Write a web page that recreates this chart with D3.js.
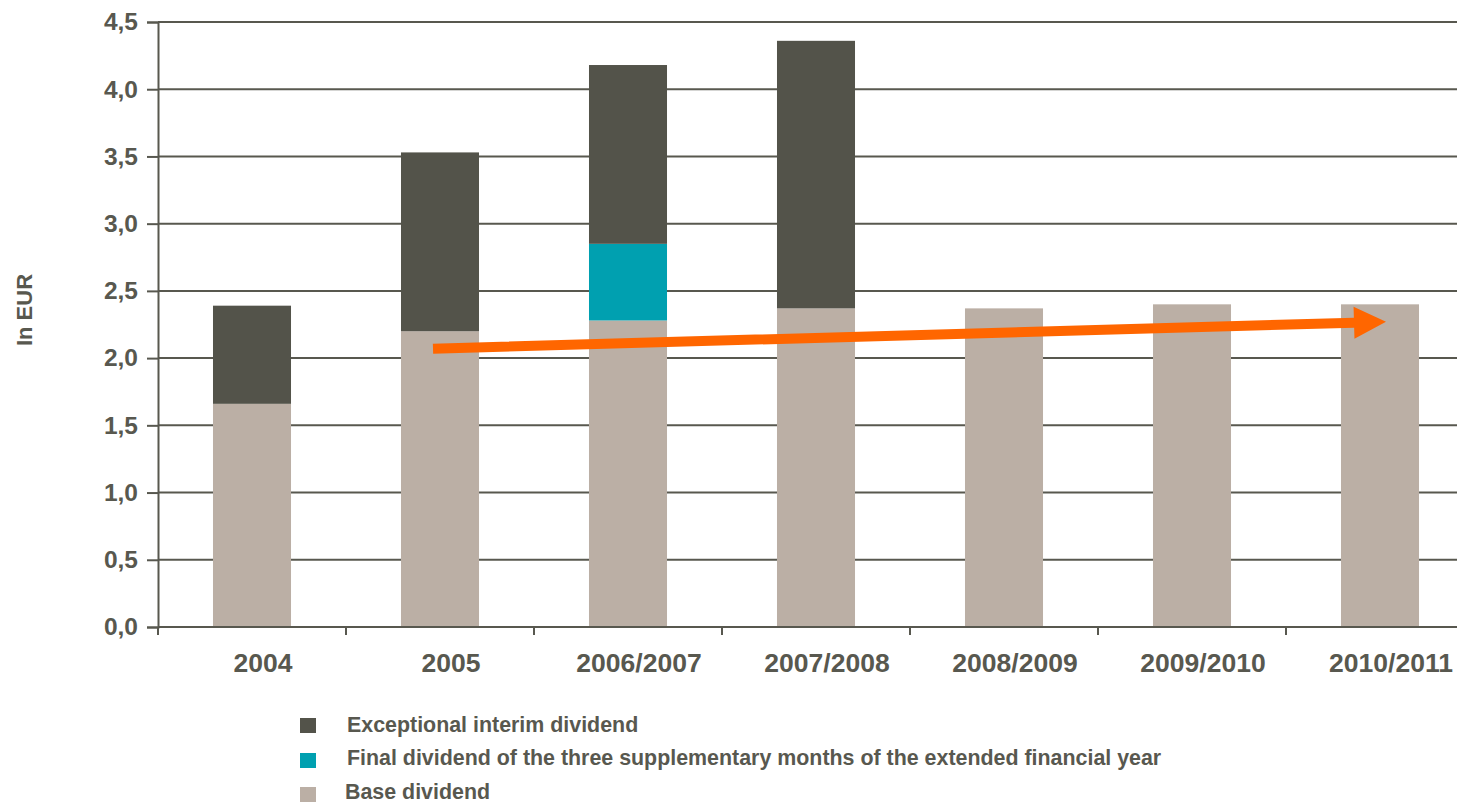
<!DOCTYPE html>
<html>
<head>
<meta charset="utf-8">
<script src="https://cdn.jsdelivr.net/npm/d3@7"></script>
<style>
  html, body { margin: 0; padding: 0; background: #fff; }
  svg { display: block; font-family: Arial, "Liberation Sans", Helvetica, sans-serif; font-weight: bold; }
</style>
</head>
<body>
<svg id="chart" width="1457" height="805"></svg>
<script>
// Dividend per share, in EUR
const categories = ["2004", "2005", "2006/2007", "2007/2008", "2008/2009", "2009/2010", "2010/2011"];
const baseDividend = [1.66, 2.20, 2.28, 2.37, 2.37, 2.40, 2.40];
const supplementaryDividend = [0, 0, 0.57, 0, 0, 0, 0];
const exceptionalDividend = [0.73, 1.33, 1.33, 1.99, 0, 0, 0];
const yTicks = [0, 0.5, 1, 1.5, 2, 2.5, 3, 3.5, 4, 4.5];
const seriesNames = ["Base dividend", "Final dividend of the three supplementary months of the extended financial year", "Exceptional interim dividend"];
const legendOrder = ["Exceptional interim dividend", "Final dividend of the three supplementary months of the extended financial year", "Base dividend"];
// Trend arrow: from the 2005 base level to 2010/2011
const trendFrom = { category: "2005", value: 2.07 };
const trendTo = { category: "2010/2011", value: 2.27 };

const colors = {
  "Base dividend": "#bbafa5",
  "Final dividend of the three supplementary months of the extended financial year": "#00a0b0",
  "Exceptional interim dividend": "#53534a"
};
const ink = "#58584f";
const width = 1457, height = 805;
const margin = { left: 158, top: 22, bottom: 178 };

const svg = d3.select("#chart");

const x = d3.scaleBand().domain(categories).range([margin.left, margin.left + 7 * 188]).paddingInner(0.585).paddingOuter(0.2925);
const y = d3.scaleLinear().domain([0, 4.5]).range([height - margin.bottom, margin.top]);

// Horizontal gridlines
svg.append("g").selectAll("line").data(yTicks.slice(1)).join("line")
  .attr("x1", margin.left).attr("x2", width)
  .attr("y1", d => y(d)).attr("y2", d => y(d))
  .attr("stroke", ink).attr("stroke-width", 2);

// Stacked bars
const rows = categories.map((c, i) => ({
  category: c,
  [seriesNames[0]]: baseDividend[i],
  [seriesNames[1]]: supplementaryDividend[i],
  [seriesNames[2]]: exceptionalDividend[i]
}));
const stacked = d3.stack().keys(seriesNames)(rows);

svg.append("g").selectAll("g").data(stacked).join("g")
  .attr("fill", d => colors[d.key])
  .selectAll("rect").data(d => d.filter(p => p[1] > p[0])).join("rect")
  .attr("x", d => x(d.data.category))
  .attr("width", x.bandwidth())
  .attr("y", d => y(d[1]))
  .attr("height", d => y(d[0]) - y(d[1]));

// Y axis
const yAxis = svg.append("g")
  .attr("transform", `translate(${margin.left},0)`)
  .call(d3.axisLeft(y).tickValues(yTicks).tickSize(11).tickPadding(9)
    .tickFormat(d => d3.format(".1f")(d).replace(".", ",")));
yAxis.select(".domain").attr("stroke", ink).attr("stroke-width", 2);
yAxis.selectAll(".tick line").attr("stroke", ink).attr("stroke-width", 2);
yAxis.selectAll("text").attr("fill", ink).attr("font-size", 24.5).attr("font-weight", "bold")
  .attr("font-family", "Arial, 'Liberation Sans', sans-serif");

// X axis with ticks on category boundaries
const xAxisG = svg.append("g").attr("transform", `translate(0,${y(0)})`);
xAxisG.append("line").attr("x1", margin.left).attr("x2", width).attr("stroke", ink).attr("stroke-width", 2);
const step = x.step();
const boundaries = d3.range(categories.length + 1).map(i => margin.left + i * step);
xAxisG.selectAll("line.b").data(boundaries).join("line").attr("class", "b")
  .attr("x1", d => d).attr("x2", d => d).attr("y1", 0).attr("y2", 8)
  .attr("stroke", ink).attr("stroke-width", 2);
xAxisG.selectAll("text").data(categories).join("text")
  .attr("x", d => x(d) + x.bandwidth() / 2 + 11)
  .attr("y", 45)
  .attr("text-anchor", "middle")
  .attr("fill", ink).attr("font-size", 26.5)
  .text(d => d);

// Y axis title
svg.append("text")
  .attr("transform", `translate(32,310) rotate(-90)`)
  .attr("text-anchor", "middle")
  .attr("fill", ink).attr("font-size", 22)
  .text("In EUR");

// Trend arrow
const x0 = x(trendFrom.category) + x.bandwidth() / 2 - 7;
const y0 = y(trendFrom.value);
const x1 = x(trendTo.category) + x.bandwidth() / 2 + 6;
const y1 = y(trendTo.value);
const ang = Math.atan2(y1 - y0, x1 - x0);
const headLen = 32, headHalf = 16, shaft = 5;
const bx = x1 - headLen * Math.cos(ang), by = y1 - headLen * Math.sin(ang);
const nx = -Math.sin(ang), ny = Math.cos(ang);
const arrowPts = [
  [x0 + nx * shaft, y0 + ny * shaft],
  [bx + nx * shaft, by + ny * shaft],
  [bx + nx * headHalf, by + ny * headHalf],
  [x1, y1],
  [bx - nx * headHalf, by - ny * headHalf],
  [bx - nx * shaft, by - ny * shaft],
  [x0 - nx * shaft, y0 - ny * shaft]
];
svg.append("path")
  .attr("d", d3.line()(arrowPts) + "Z")
  .attr("fill", "#ff6600");

// Legend
const legend = svg.append("g");
const legendRows = [
  { name: legendOrder[0], sy: 718, ty: 732, tx: 347 },
  { name: legendOrder[1], sy: 753, ty: 765, tx: 347 },
  { name: legendOrder[2], sy: 787, ty: 799, tx: 345 }
];
legend.selectAll("rect").data(legendRows).join("rect")
  .attr("x", 300).attr("y", d => d.sy).attr("width", 16).attr("height", 15)
  .attr("fill", d => colors[d.name]);
legend.selectAll("text").data(legendRows).join("text")
  .attr("x", d => d.tx).attr("y", d => d.ty)
  .attr("fill", ink).attr("font-size", 21.4)
  .text(d => d.name);
</script>
</body>
</html>
